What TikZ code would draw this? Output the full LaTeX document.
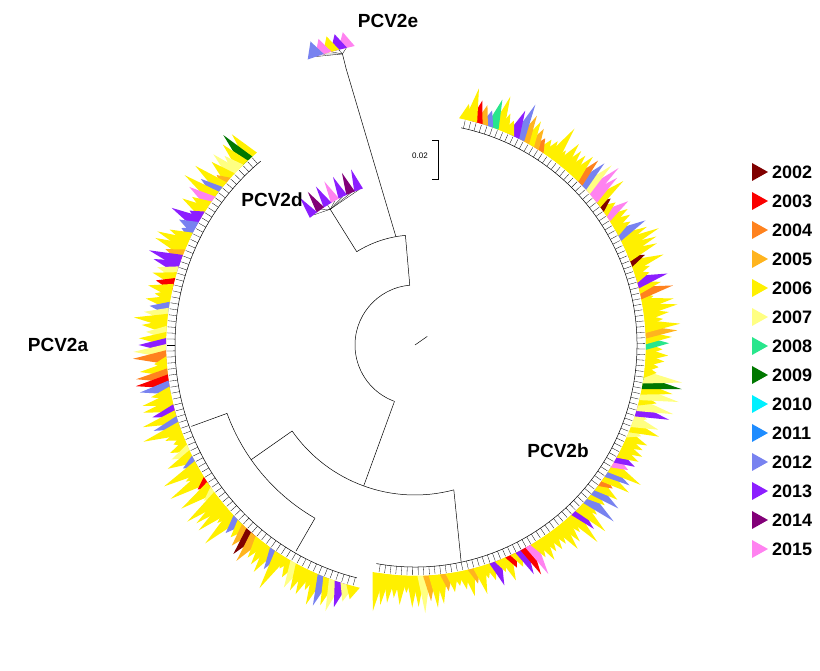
\documentclass[tikz,border=0pt]{standalone}
\usepackage{fontspec}
\setmainfont{Liberation Sans}
\definecolor{c02}{RGB}{128,0,0}
\definecolor{c03}{RGB}{250,0,0}
\definecolor{c04}{RGB}{255,130,30}
\definecolor{c05}{RGB}{255,180,30}
\definecolor{c06}{RGB}{255,240,0}
\definecolor{c07}{RGB}{255,255,130}
\definecolor{c08}{RGB}{40,230,140}
\definecolor{c09}{RGB}{0,120,0}
\definecolor{c10}{RGB}{0,240,255}
\definecolor{c11}{RGB}{30,140,255}
\definecolor{c12}{RGB}{120,130,240}
\definecolor{c13}{RGB}{140,30,255}
\definecolor{c14}{RGB}{130,0,120}
\definecolor{c15}{RGB}{255,130,240}
\tikzset{
  clade/.style={font=\fontsize{19}{22}\selectfont\bfseries},
  yearlab/.style={font=\fontsize{18}{20}\selectfont\bfseries,anchor=west,inner sep=0pt},
  branch/.style={black,line width=0.5pt}
}
% pick a colour name into \cc, mostly yellow
\newcommand\pickcol{%
  \pgfmathrandominteger{\k}{1}{40}%
  \ifcase\k\or\def\cc{c02}\or\def\cc{c03}\or\def\cc{c04}\or\def\cc{c05}\or\def\cc{c05}%
  \or\def\cc{c07}\or\def\cc{c07}\or\def\cc{c07}\or\def\cc{c08}\or\def\cc{c09}%
  \or\def\cc{c12}\or\def\cc{c12}\or\def\cc{c12}\or\def\cc{c13}\or\def\cc{c13}%
  \or\def\cc{c13}\or\def\cc{c15}%
  \else\def\cc{c06}\fi}
% leaf triangle: angle, radius, length
\newcommand\leaf[3]{\fill[\cc] (#1-1.6:#2) -- (#1:#2+#3) -- (#1+1.6:#2) -- cycle;}
\begin{document}
\begin{tikzpicture}[x=1pt,y=1pt]
  \useasboundingbox (0,0) rectangle (820,671);
  \pgfmathsetseed{11}
  \begin{scope}[shift={(415,326)}]
    % backbone
    \draw[branch] (95:60) arc (95:250:60);
    \draw[branch] (95:60) -- (95:110) arc (95:122:110);
    \draw[branch] (122:110) -- (122:160);
    \draw[branch] (100:110) -- (104:285);
    \draw[branch] (250:60) -- (250:150);
    \draw[branch] (215:150) arc (215:285:150);
    \draw[branch] (285:150) -- (282:222);
    \draw[branch] (215:150) -- (215:200) arc (215:240:200);
    \draw[branch] (240:200) -- (240:238);
    \draw[branch] (200:200) arc (200:215:200);
    \draw[branch] (200:200) -- (200:238);
    \draw[branch] (20:0) -- (35:15);
    % clade arcs
    \draw[branch] (-100:222) arc (-100:78:222);
    \draw[branch] (130:240) arc (130:256:240);
    % PCV2b leaves
    \foreach \a in {-99,-97.6,...,78}{
      \pickcol
      \pgfmathsetmacro\L{12+28*rnd}
      \draw[branch,line width=0.3pt] (\a:222) -- (\a:230);
      \leaf{\a}{231}{\L}
    }
    % PCV2a leaves
    \foreach \a in {131,132.4,...,256}{
      \pickcol
      \pgfmathsetmacro\L{12+28*rnd}
      \draw[branch,line width=0.3pt] (\a:240) -- (\a:248);
      \leaf{\a}{249}{\L}
    }
    % PCV2d leaves
    \foreach \a/\c in {110/c13,113/c14,116/c13,119/c15,122/c13,125/c14,128/c13}{
      \def\cc{\c}
      \draw[branch,line width=0.3pt] (122:160) -- (\a:165);
      \leaf{\a}{165}{22}
    }
    % PCV2e leaves
    \draw[branch] (104:285) -- (104:300);
    \foreach \a/\c in {103/c15,104.5/c13,106/c06,107.5/c15,109/c12}{
      \def\cc{\c}
      \draw[branch,line width=0.3pt] (104:300) -- (\a:305);
      \leaf{\a}{305}{16}
    }
  \end{scope}
  % scale bar
  \draw[branch] (432,531) -- (438,531) -- (438,492) -- (432,492);
  \node[font=\footnotesize] (scale) at (420,515) {0.02};
  % clade labels
  \node[clade] (pa) at (58,326) {PCV2a};
  \node[clade] (pb) at (558,220) {PCV2b};
  \node[clade] (pd) at (272,471) {PCV2d};
  \node[clade] (pe) at (388,650) {PCV2e};
  % legend
  \foreach \y/\c [count=\i] in {2002/c02,2003/c03,2004/c04,2005/c05,2006/c06,2007/c07,2008/c08,2009/c09,2010/c10,2011/c11,2012/c12,2013/c13,2014/c14,2015/c15}{
    \pgfmathsetmacro\yy{671-172-(\i-1)*29}
    \fill[\c] (752,\yy+9) -- (768,\yy) -- (752,\yy-9) -- cycle;
    \node[yearlab] (y\y) at (772,\yy) {\y};
  }
\end{tikzpicture}
\end{document}
